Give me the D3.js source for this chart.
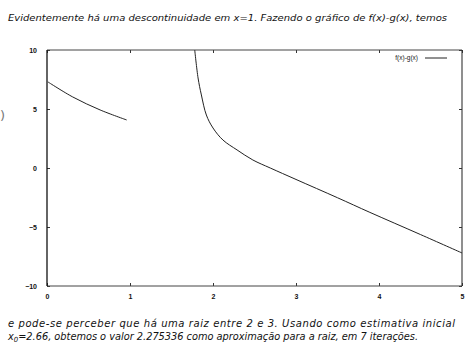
<!DOCTYPE html>
<html>
<head>
<meta charset="utf-8">
<script src="https://cdn.jsdelivr.net/npm/d3@7"></script>
<style>
  body { margin: 0; background: #fff; }
  svg { display: block; }
</style>
</head>
<body>
<div id="chart"></div>
<script>
// data
const xTicks = [0, 1, 2, 3, 4, 5];
const yTicks = [-10, -5, 0, 5, 10];
const legendLabel = "f(x)-g(x)";

// branch left of the discontinuity
const left_x = [0.01, 0.31, 0.64, 0.96];
const left_y = [7.3, 6.02, 4.92, 4.07];

// branch right of it
const right_x = [1.78, 1.82, 1.86, 1.92, 2.0, 2.12, 2.29, 2.48, 2.69, 3.0, 3.5, 3.89, 4.5, 5.0];
const right_y = [10, 7.63, 6.19, 4.49, 3.39, 2.37, 1.53, 0.68, 0.0, -0.97, -2.52, -3.76, -5.64, -7.2];

const topText = "Evidentemente há uma descontinuidade em x=1. Fazendo o gráfico de f(x)-g(x), temos";
const bottomText1 = "e pode-se perceber que há uma raiz entre 2 e 3. Usando como estimativa inicial";
const bottomText2a = "x";
const bottomText2b = "=2.66, obtemos o valor 2.275336 como aproximação para a raiz, em 7 iterações.";

const width = 471, height = 355;
const svg = d3.select("#chart").append("svg")
  .attr("width", width)
  .attr("height", height)
  .attr("font-family", "DejaVu Sans, sans-serif");

const x = d3.scaleLinear().domain([0, 5]).range([47, 462]);
const y = d3.scaleLinear().domain([-10, 10]).range([286, 50]);

// text above
svg.append("text")
  .attr("x", 8).attr("y", 21)
  .attr("font-size", 9)
  .attr("font-style", "italic")
  .attr("textLength", 439)
  .attr("lengthAdjust", "spacingAndGlyphs")
  .attr("fill", "#111")
  .text(topText);

// clip for the plot
svg.append("clipPath").attr("id", "clip")
  .append("rect")
  .attr("x", x(0)).attr("y", y(10))
  .attr("width", x(5) - x(0)).attr("height", y(-10) - y(10));

// axes, gnuplot style ticks pointing in
const tickFont = g => g.selectAll("text")
  .attr("font-size", 7).attr("font-weight", "bold")
  .attr("font-family", "Liberation Sans, Arial, sans-serif").attr("fill", "#111");

svg.append("g")
  .attr("transform", `translate(0,${y(-10)})`)
  .call(d3.axisBottom(x).tickValues(xTicks).tickSize(-3).tickPadding(8).tickFormat(d3.format("d")))
  .call(g => g.select(".domain").remove())
  .call(g => g.selectAll("line").attr("stroke", "#333"))
  .call(tickFont);

svg.append("g")
  .attr("transform", `translate(0,${y(10)})`)
  .call(d3.axisTop(x).tickValues(xTicks).tickSize(-3).tickFormat(""))
  .call(g => g.select(".domain").remove())
  .call(g => g.selectAll("line").attr("stroke", "#333"));

svg.append("g")
  .attr("transform", `translate(${x(0)},0)`)
  .call(d3.axisLeft(y).tickValues(yTicks).tickSize(-3).tickPadding(10).tickFormat(d3.format("d")))
  .call(g => g.select(".domain").remove())
  .call(g => g.selectAll("line").attr("stroke", "#333"))
  .call(tickFont);

svg.append("g")
  .attr("transform", `translate(${x(5)},0)`)
  .call(d3.axisRight(y).tickValues(yTicks).tickSize(-3).tickFormat(""))
  .call(g => g.select(".domain").remove())
  .call(g => g.selectAll("line").attr("stroke", "#333"));

// frame
svg.append("line")
  .attr("x1", x(0)).attr("x2", x(5)).attr("y1", y(10)).attr("y2", y(10))
  .attr("stroke", "#444").attr("stroke-width", 1);
svg.append("line")
  .attr("x1", x(0)).attr("x2", x(5)).attr("y1", y(-10)).attr("y2", y(-10))
  .attr("stroke", "#444").attr("stroke-width", 1);
svg.append("line")
  .attr("x1", x(0)).attr("x2", x(0)).attr("y1", y(10)).attr("y2", y(-10))
  .attr("stroke", "#111").attr("stroke-width", 1.3);
svg.append("line")
  .attr("x1", x(5)).attr("x2", x(5)).attr("y1", y(10)).attr("y2", y(-10))
  .attr("stroke", "#333").attr("stroke-width", 1.1);

// curves
const line = d3.line()
  .x(d => x(d[0]))
  .y(d => y(d[1]))
  .curve(d3.curveCatmullRom.alpha(0.5));

const plot = svg.append("g").attr("clip-path", "url(#clip)");

plot.append("path")
  .datum(d3.zip(left_x, left_y))
  .attr("d", line)
  .attr("fill", "none").attr("stroke", "#222").attr("stroke-width", 1);

plot.append("path")
  .datum(d3.zip(right_x, right_y))
  .attr("d", line)
  .attr("fill", "none").attr("stroke", "#222").attr("stroke-width", 1);

// legend
svg.append("text")
  .attr("x", 418).attr("y", 60)
  .attr("text-anchor", "end")
  .attr("font-size", 6.5)
  .attr("font-family", "Liberation Sans, Arial, sans-serif")
  .attr("fill", "#222")
  .text(legendLabel);
svg.append("line")
  .attr("x1", 425).attr("x2", 447).attr("y1", 58).attr("y2", 58)
  .attr("stroke", "#222").attr("stroke-width", 1);

// scan specks
svg.append("text")
  .attr("x", 0).attr("y", 120)
  .attr("font-size", 13).attr("fill", "#777")
  .text(")");

// text below
const bottom = svg.append("g")
  .attr("font-size", 10)
  .attr("font-style", "italic")
  .attr("fill", "#111");

bottom.append("text")
  .attr("x", 8).attr("y", 327)
  .attr("textLength", 447)
  .attr("lengthAdjust", "spacing")
  .text(bottomText1);

const t2 = bottom.append("text")
  .attr("x", 8).attr("y", 340)
  .attr("textLength", 410)
  .attr("lengthAdjust", "spacingAndGlyphs");
t2.append("tspan").text(bottomText2a);
t2.append("tspan").attr("font-size", 7).attr("dy", 2).text("0");
t2.append("tspan").attr("dy", -2).text(bottomText2b);
</script>
</body>
</html>
